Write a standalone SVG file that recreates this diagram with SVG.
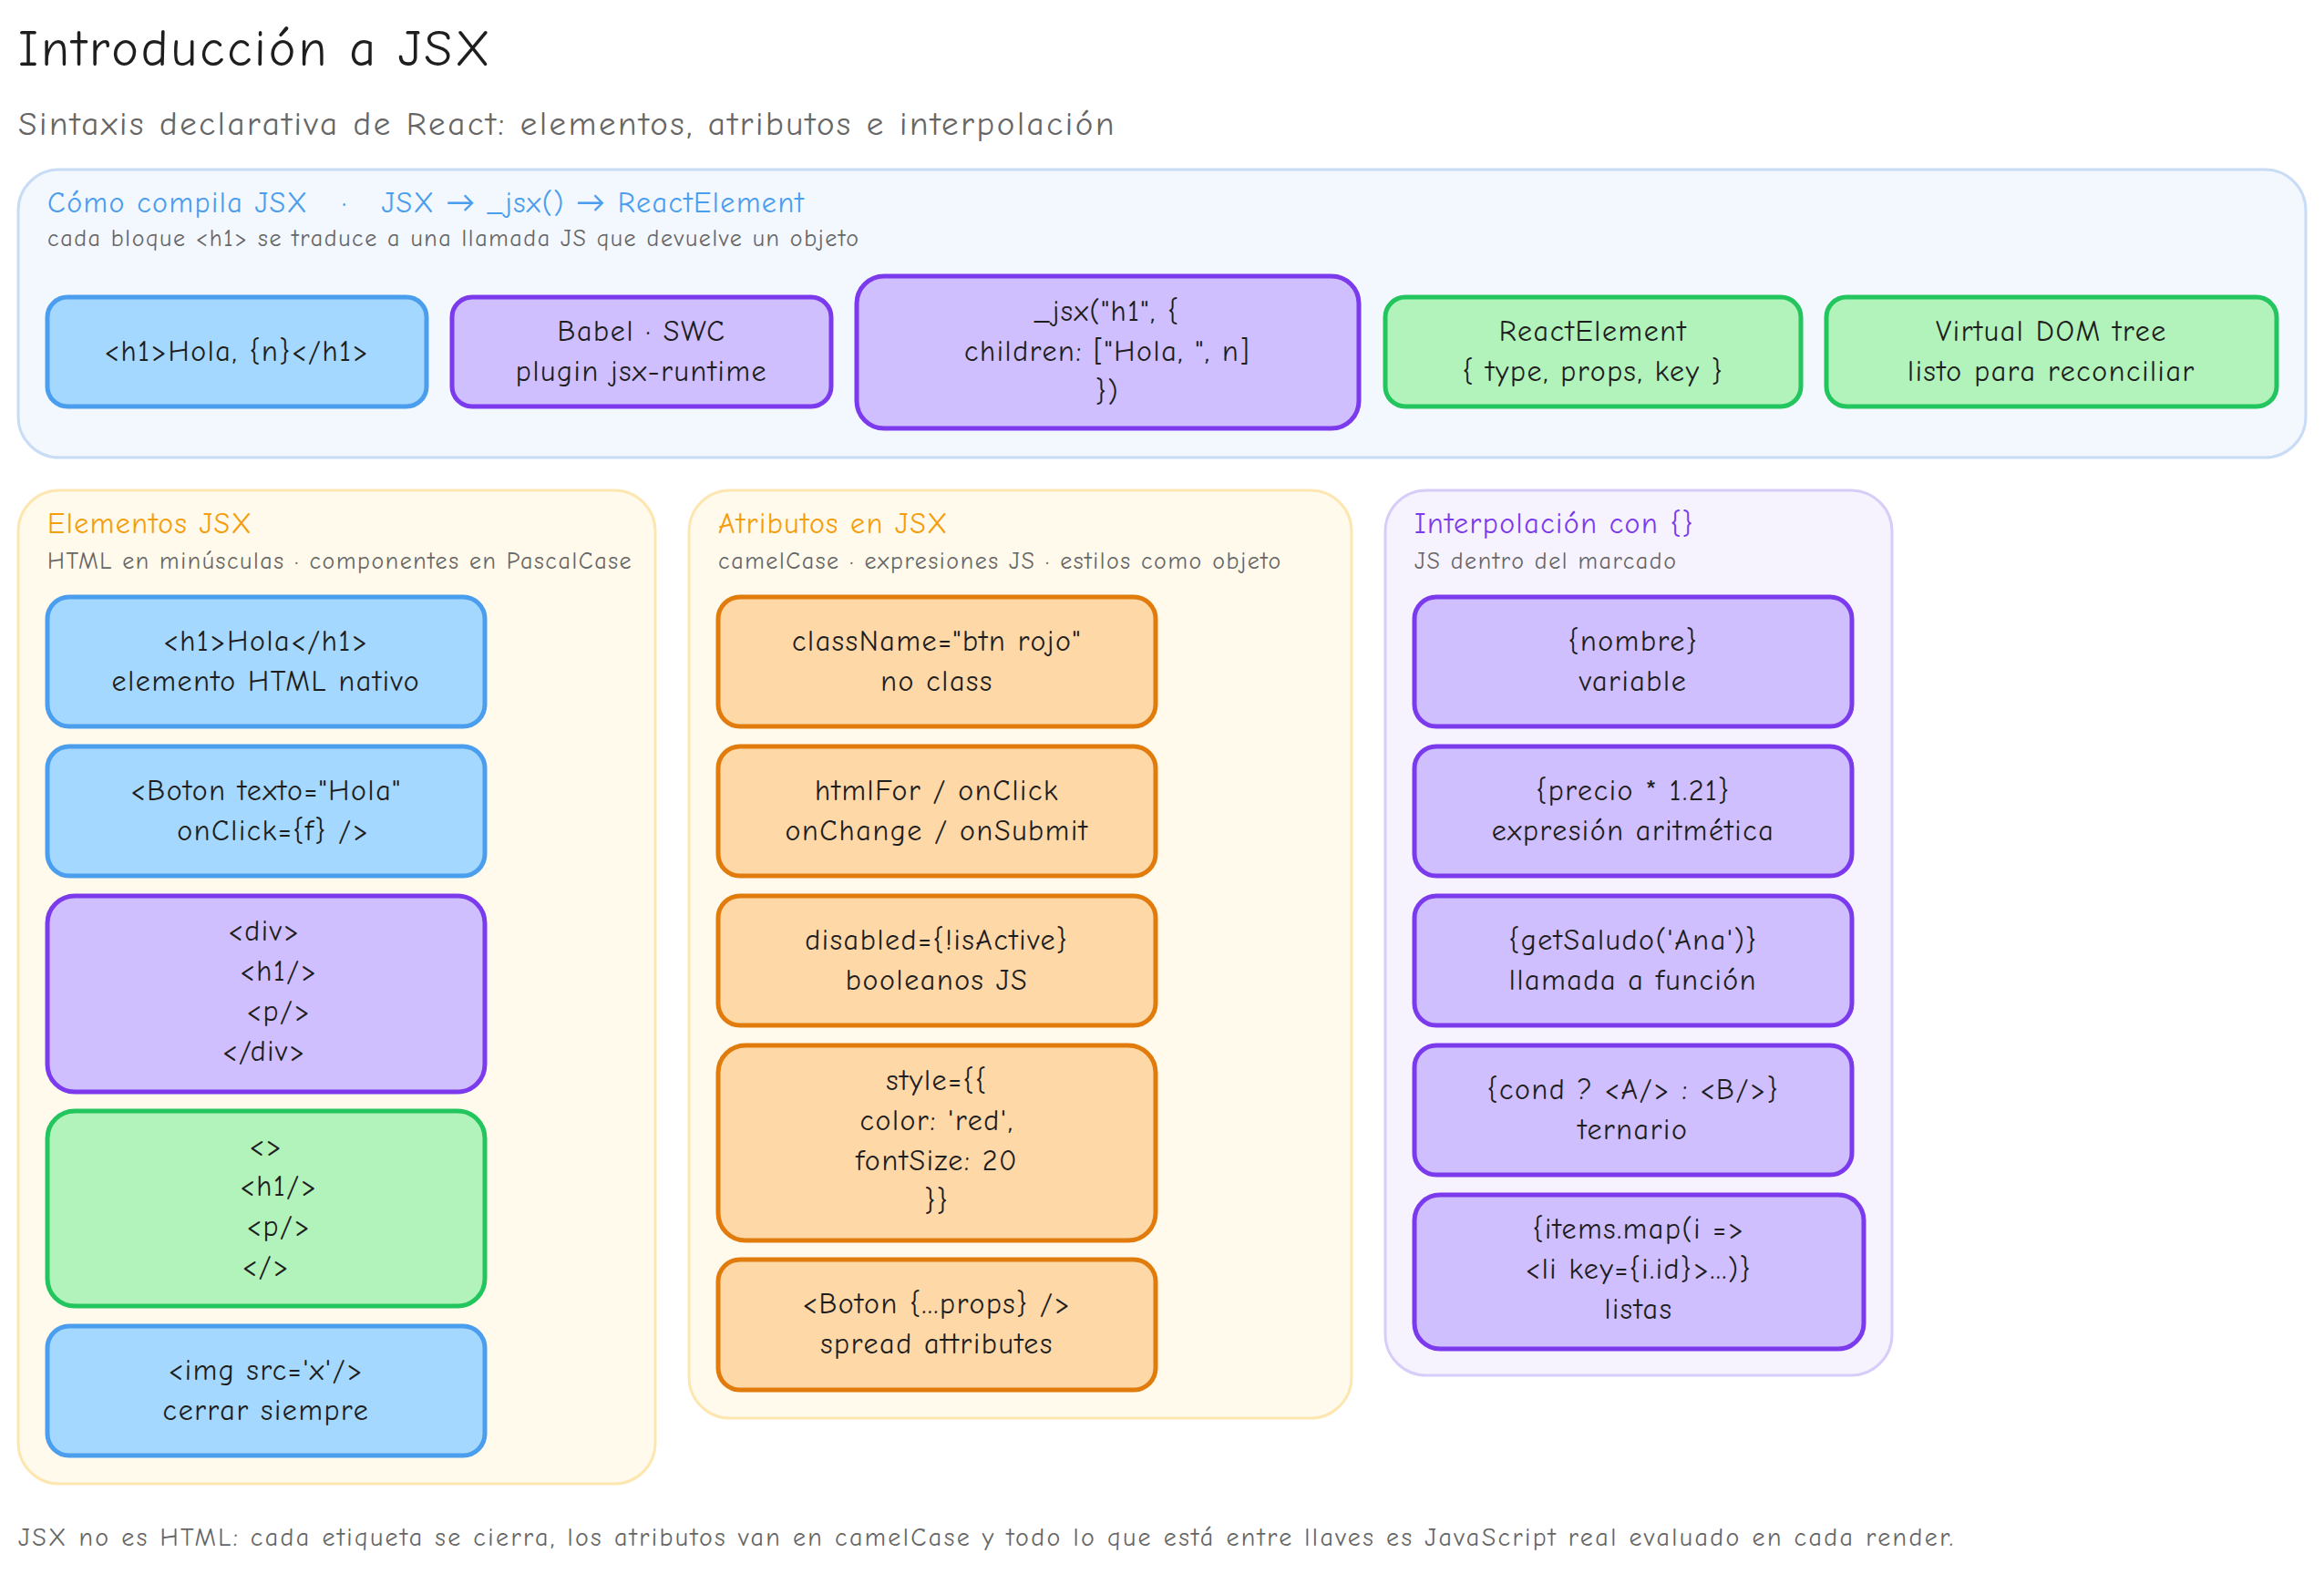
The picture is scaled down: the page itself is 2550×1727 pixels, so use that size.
<svg xmlns="http://www.w3.org/2000/svg" width="2550" height="1727" viewBox="0 0 2550 1727">
<style>
text{font-family:"Comic Neue","Lato","Liberation Sans",sans-serif;}
.t{font-size:32px;fill:#1e1e1e;text-anchor:middle;letter-spacing:1.6px}
.n rect{stroke-width:5}
.blue rect{fill:#a5d8ff;stroke:#4a9eed}
.pur rect{fill:#d0bfff;stroke:#7c3aed}
.grn rect{fill:#b2f2bb;stroke:#22c55e}
.org rect{fill:#ffd8a8;stroke:#e07b0c}
.ph{font-size:32px;letter-spacing:1.5px}
.ps{font-size:26px;fill:#666;letter-spacing:1.6px}
</style>
<rect width="2550" height="1727" fill="#fff"/>
<text x="20" y="72" font-size="56" fill="#1e1e1e" letter-spacing="3">Introducción a JSX</text>
<text x="20" y="148" font-size="37" fill="#666" letter-spacing="2.6">Sintaxis declarativa de React: elementos, atributos e interpolación</text>

<g id="panel-compila">
<rect x="20" y="186" width="2510" height="316" rx="45" fill="#f3f7fe" stroke="#c8dcf5" stroke-width="3"/>
<text class="ph" x="52" y="233" fill="#4a9eed" xml:space="preserve">Cómo compila JSX   ·   JSX → _jsx() → ReactElement</text>
<text class="ps" x="52" y="270">cada bloque &lt;h1&gt; se traduce a una llamada JS que devuelve un objeto</text>
</g>
<g id="n1" class="n blue"><rect x="52" y="326" width="416" height="120" rx="22"/><text class="t" x="260" y="396">&lt;h1&gt;Hola, {n}&lt;/h1&gt;</text></g>
<g id="n2" class="n pur"><rect x="496" y="326" width="416" height="120" rx="22"/><text class="t" x="704" y="374">Babel · SWC</text><text class="t" x="704" y="418">plugin jsx-runtime</text></g>
<g id="n3" class="n pur"><rect x="940" y="303" width="551" height="167" rx="30"/><text class="t" x="1215" y="352">_jsx("h1", {</text><text class="t" x="1215" y="396">children: ["Hola, ", n]</text><text class="t" x="1215" y="440">})</text></g>
<g id="n4" class="n grn"><rect x="1520" y="326" width="456" height="120" rx="22"/><text class="t" x="1748" y="374">ReactElement</text><text class="t" x="1748" y="418">{ type, props, key }</text></g>
<g id="n5" class="n grn"><rect x="2004" y="326" width="494" height="120" rx="22"/><text class="t" x="2251" y="374">Virtual DOM tree</text><text class="t" x="2251" y="418">listo para reconciliar</text></g>

<g id="panel-elementos">
<rect x="20" y="538" width="699" height="1090" rx="45" fill="#fffaeb" stroke="#fde7b0" stroke-width="3"/>
<text class="ph" x="52" y="585" fill="#f59e0b">Elementos JSX</text>
<text class="ps" x="52" y="624">HTML en minúsculas · componentes en PascalCase</text>
</g>
<g id="e1" class="n blue"><rect x="52" y="655" width="480" height="142" rx="24"/><text class="t" x="292" y="714">&lt;h1&gt;Hola&lt;/h1&gt;</text><text class="t" x="292" y="758">elemento HTML nativo</text></g>
<g id="e2" class="n blue"><rect x="52" y="819" width="480" height="142" rx="24"/><text class="t" x="292" y="878">&lt;Boton texto="Hola"</text><text class="t" x="300" y="922">onClick={f} /&gt;</text></g>
<g id="e3" class="n pur"><rect x="52" y="983" width="480" height="215" rx="30"/><text class="t" x="290" y="1032">&lt;div&gt;</text><text class="t" x="306" y="1076">&lt;h1/&gt;</text><text class="t" x="306" y="1120">&lt;p/&gt;</text><text class="t" x="290" y="1164">&lt;/div&gt;</text></g>
<g id="e4" class="n grn"><rect x="52" y="1219" width="480" height="214" rx="30"/><text class="t" x="292" y="1268">&lt;&gt;</text><text class="t" x="306" y="1312">&lt;h1/&gt;</text><text class="t" x="306" y="1356">&lt;p/&gt;</text><text class="t" x="292" y="1400">&lt;/&gt;</text></g>
<g id="e5" class="n blue"><rect x="52" y="1455" width="480" height="142" rx="24"/><text class="t" x="292" y="1514">&lt;img src='x'/&gt;</text><text class="t" x="292" y="1558">cerrar siempre</text></g>

<g id="panel-atributos">
<rect x="756" y="538" width="727" height="1018" rx="45" fill="#fffaeb" stroke="#fde7b0" stroke-width="3"/>
<text class="ph" x="788" y="585" fill="#f59e0b">Atributos en JSX</text>
<text class="ps" x="788" y="624">camelCase · expresiones JS · estilos como objeto</text>
</g>
<g id="a1" class="n org"><rect x="788" y="655" width="480" height="142" rx="24"/><text class="t" x="1028" y="714">className="btn rojo"</text><text class="t" x="1028" y="758">no class</text></g>
<g id="a2" class="n org"><rect x="788" y="819" width="480" height="142" rx="24"/><text class="t" x="1028" y="878">htmlFor / onClick</text><text class="t" x="1028" y="922">onChange / onSubmit</text></g>
<g id="a3" class="n org"><rect x="788" y="983" width="480" height="142" rx="24"/><text class="t" x="1028" y="1042">disabled={!isActive}</text><text class="t" x="1028" y="1086">booleanos JS</text></g>
<g id="a4" class="n org"><rect x="788" y="1147" width="480" height="214" rx="30"/><text class="t" x="1028" y="1196">style={{</text><text class="t" x="1028" y="1240">color: 'red',</text><text class="t" x="1028" y="1284">fontSize: 20</text><text class="t" x="1028" y="1328">}}</text></g>
<g id="a5" class="n org"><rect x="788" y="1382" width="480" height="143" rx="24"/><text class="t" x="1028" y="1441">&lt;Boton {...props} /&gt;</text><text class="t" x="1028" y="1485">spread attributes</text></g>

<g id="panel-interp">
<rect x="1520" y="538" width="556" height="971" rx="45" fill="#f6f3ff" stroke="#d8ccf8" stroke-width="3"/>
<text class="ph" x="1552" y="585" fill="#7c3aed">Interpolación con {}</text>
<text class="ps" x="1552" y="624">JS dentro del marcado</text>
</g>
<g id="i1" class="n pur"><rect x="1552" y="655" width="480" height="142" rx="24"/><text class="t" x="1792" y="714">{nombre}</text><text class="t" x="1792" y="758">variable</text></g>
<g id="i2" class="n pur"><rect x="1552" y="819" width="480" height="142" rx="24"/><text class="t" x="1792" y="878">{precio * 1.21}</text><text class="t" x="1792" y="922">expresión aritmética</text></g>
<g id="i3" class="n pur"><rect x="1552" y="983" width="480" height="142" rx="24"/><text class="t" x="1792" y="1042">{getSaludo('Ana')}</text><text class="t" x="1792" y="1086">llamada a función</text></g>
<g id="i4" class="n pur"><rect x="1552" y="1147" width="480" height="142" rx="24"/><text class="t" x="1792" y="1206">{cond ? &lt;A/&gt; : &lt;B/&gt;}</text><text class="t" x="1792" y="1250">ternario</text></g>
<g id="i5" class="n pur"><rect x="1552" y="1311" width="493" height="169" rx="28"/><text class="t" x="1798" y="1359">{items.map(i =&gt;</text><text class="t" x="1798" y="1403">&lt;li key={i.id}&gt;...)}</text><text class="t" x="1798" y="1447">listas</text></g>

<g id="connectors"></g>
<text x="20" y="1696" font-size="28" fill="#666" letter-spacing="2.4">JSX no es HTML: cada etiqueta se cierra, los atributos van en camelCase y todo lo que está entre llaves es JavaScript real evaluado en cada render.</text>
</svg>
